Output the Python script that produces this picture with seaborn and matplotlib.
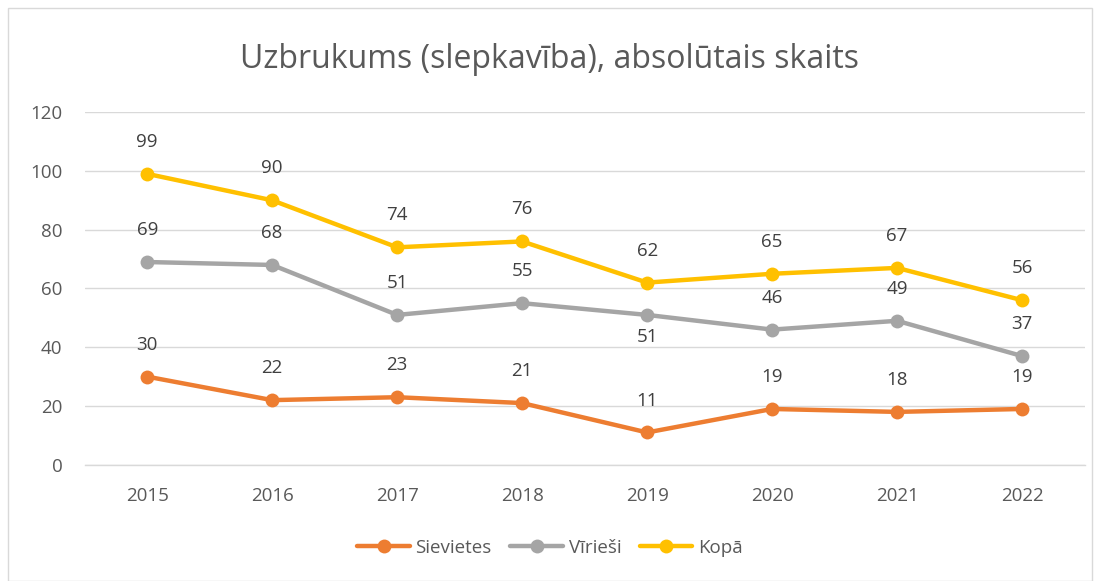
import matplotlib
matplotlib.use("Agg")
import matplotlib.pyplot as plt
import seaborn as sns
import pandas as pd
from matplotlib.patches import Rectangle

years = ["2015", "2016", "2017", "2018", "2019", "2020", "2021", "2022"]
sievietes = [30, 22, 23, 21, 11, 19, 18, 19]
viriesi = [69, 68, 51, 55, 51, 46, 49, 37]
kopa = [99, 90, 74, 76, 62, 65, 67, 56]
series_names = ["Sievietes", "Vīrieši", "Kopā"]
colors = ["#ED7D31", "#A5A5A5", "#FFC000"]
title = "Uzbrukums (slepkavība), absolūtais skaits"

rows = []
for name, vals in zip(series_names, [sievietes, viriesi, kopa]):
    for i, v in enumerate(vals):
        rows.append({"idx": i, "year": years[i], "value": v, "series": name})
df = pd.DataFrame(rows)

sns.set_theme(style="white")
plt.rcParams["font.family"] = ["Open Sans", "DejaVu Sans"]

fig = plt.figure(figsize=(11, 5.81), dpi=100)
ax = fig.add_axes([0.077, 0.2, 0.909, 0.607])

sns.lineplot(data=df, x="idx", y="value", hue="series", palette=colors,
             hue_order=series_names, marker="o", markersize=10,
             markeredgewidth=0, linewidth=3.2, ax=ax, legend=True)

ax.set_xlim(-0.5, 7.5)
ax.set_ylim(0, 120)
ax.set_yticks(range(0, 121, 20))
ax.set_xticks(range(len(years)))
ax.set_xticklabels(years)
ax.set_xlabel("")
ax.set_ylabel("")
ax.grid(axis="y", color="#D9D9D9", linewidth=1)
ax.set_axisbelow(True)
for s in ["top", "right", "left"]:
    ax.spines[s].set_visible(False)
ax.spines["bottom"].set_color("#D9D9D9")
ax.spines["bottom"].set_linewidth(1)
ax.tick_params(axis="y", length=0, pad=16, labelsize=13.5, labelcolor="#595959")
ax.tick_params(axis="x", length=0, pad=16, labelsize=13.5, labelcolor="#595959")

for name, vals in zip(series_names, [sievietes, viriesi, kopa]):
    for i, v in enumerate(vals):
        below = (name == "Vīrieši" and years[i] == "2019")
        off = -16 if below else 23
        ax.annotate(str(v), (i, v), xytext=(0, off), textcoords="offset points",
                    ha="center", va="center", fontsize=13.5, color="#404040")

handles, labels = ax.get_legend_handles_labels()
ax.legend(handles, labels, loc="center",
          bbox_to_anchor=(0.5, 1 - 548 / 581), bbox_transform=fig.transFigure,
          ncol=3, frameon=False, fontsize=13.5, labelcolor="#595959",
          handlelength=2.8, columnspacing=1.0, handletextpad=0.3)

fig.text(0.5, 1 - 60 / 581, title, ha="center", va="center",
         fontsize=23, color="#595959")

fig.patches.append(Rectangle((8 / 1100, 0.0), 1084 / 1100, 1 - 8 / 581,
                             transform=fig.transFigure, fill=False,
                             edgecolor="#D9D9D9", linewidth=1))

fig.savefig("out.png", dpi=100)
